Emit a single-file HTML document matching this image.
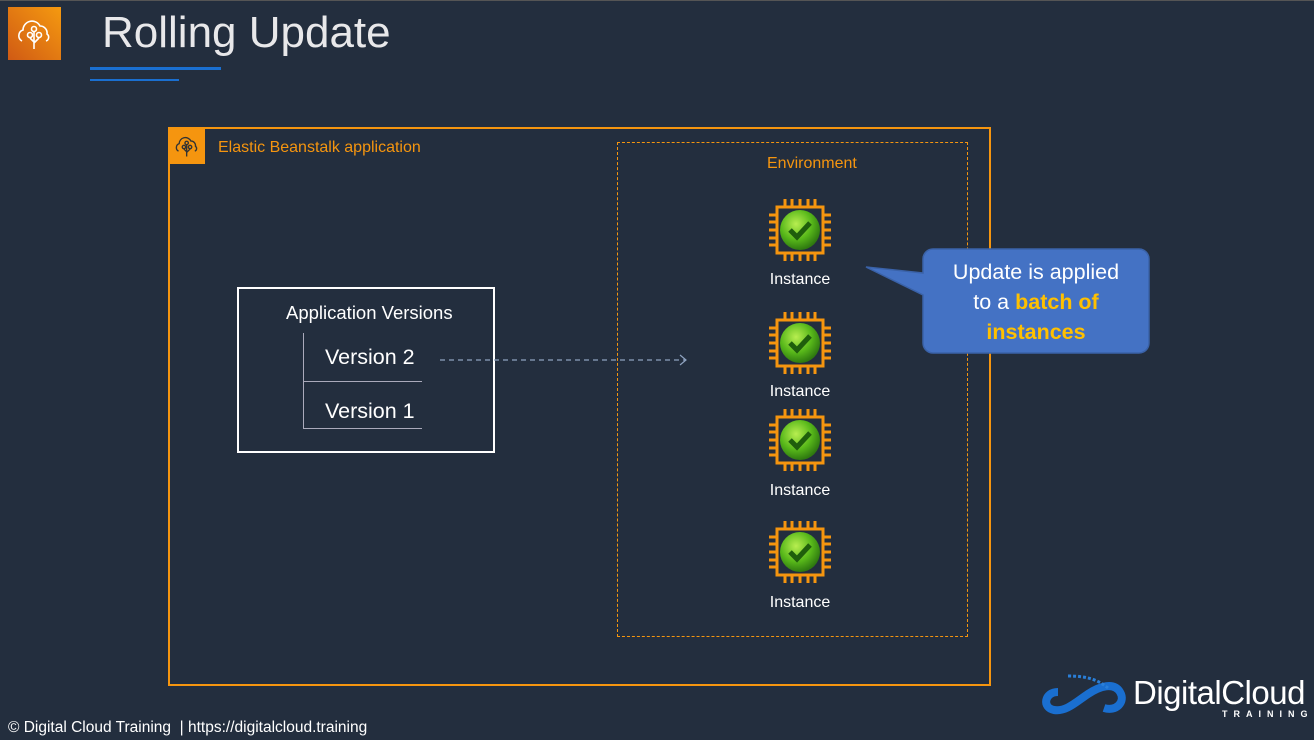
<!DOCTYPE html>
<html><head><style>
body{margin:0;width:1314px;height:740px;background:#232e3e;position:relative;overflow:hidden;font-family:"Liberation Sans",sans-serif;}
.a{position:absolute}
.inst{position:absolute;width:80px;text-align:center;color:#fff;font-size:16px}
</style></head><body>
<div class="a" style="left:0;top:0;width:1314px;height:1px;background:#555"></div>
<div class="a" style="left:8px;top:7px;width:53px;height:53px;background:linear-gradient(45deg,#d05a14,#f59a10)"></div>
<svg class="a" style="left:8px;top:7px" width="53" height="53" viewBox="0 0 53 53" fill="none" stroke="#fff" stroke-width="1.6"><path d="M14 34a6 6 0 0 1 1-11a9 9 0 0 1 17-4a7 7 0 0 1 7 8a4 4 0 0 1-1 7"/><circle cx="22" cy="28" r="2.5"/><circle cx="26" cy="22" r="2.5"/><circle cx="31" cy="28" r="2.5"/><path d="M26 25v17M22 31l4 4M31 31l-5 5"/></svg>
<div class="a" style="left:102px;top:8px;font-size:44px;color:#e8e8ea">Rolling Update</div>
<div class="a" style="left:90px;top:67px;width:131px;height:3px;background:#1a6fd0"></div>
<div class="a" style="left:90px;top:79px;width:89px;height:2px;background:#1a6fd0"></div>

<div class="a" style="left:168px;top:127px;width:819px;height:555px;border:2px solid #f5950f"></div>
<div class="a" style="left:169px;top:128px;width:36px;height:36px;background:#f5950f"></div>
<svg class="a" style="left:169px;top:128px" width="36" height="36" viewBox="0 0 53 53" fill="none" stroke="#333" stroke-width="2"><path d="M14 34a6 6 0 0 1 1-11a9 9 0 0 1 17-4a7 7 0 0 1 7 8a4 4 0 0 1-1 7"/><circle cx="22" cy="28" r="2.5"/><circle cx="26" cy="22" r="2.5"/><circle cx="31" cy="28" r="2.5"/><path d="M26 25v17M22 31l4 4M31 31l-5 5"/></svg>
<div class="a" style="left:218px;top:139px;font-size:16px;color:#f5950f">Elastic Beanstalk application</div>

<div class="a" style="left:617px;top:142px;width:349px;height:493px;border:1.5px dashed #f5950f"></div>
<div class="a" style="left:767px;top:155px;font-size:16px;color:#f5950f">Environment</div>

<div class="a" style="left:237px;top:287px;width:254px;height:162px;border:2px solid #fff"></div>
<div class="a" style="left:286px;top:302px;font-size:18.5px;color:#fff">Application Versions</div>
<div class="a" style="left:303px;top:333px;width:1px;height:96px;background:#aab"></div>
<div class="a" style="left:303px;top:381px;width:119px;height:1px;background:#aab"></div>
<div class="a" style="left:303px;top:428px;width:119px;height:1px;background:#aab"></div>
<div class="a" style="left:325px;top:345px;font-size:21.5px;color:#fff">Version 2</div>
<div class="a" style="left:325px;top:399px;font-size:21.5px;color:#fff">Version 1</div>
<svg class="a" style="left:438px;top:352px" width="255" height="16"><path d="M2 8H248" stroke="#8fa3c0" stroke-width="1.2" stroke-dasharray="5 4"/><path d="M242 3l6 5-6 5" stroke="#8fa3c0" fill="none" stroke-width="1.2"/></svg>

<svg width="0" height="0" style="position:absolute"><defs>
<radialGradient id="g" cx="40%" cy="35%" r="65%"><stop offset="0" stop-color="#b8ee50"/><stop offset="0.6" stop-color="#58b81a"/><stop offset="1" stop-color="#2f7a10"/></radialGradient>
<g id="chip"><rect x="8" y="8" width="46" height="46" fill="none" stroke="#f5950f" stroke-width="3"/>
<path d="M16 0v8M23 0v8M31 0v8M39 0v8M46 0v8M16 54v8M23 54v8M31 54v8M39 54v8M46 54v8M0 16h8M0 23h8M0 31h8M0 39h8M0 46h8M54 16h8M54 23h8M54 31h8M54 39h8M54 46h8" stroke="#f5950f" stroke-width="3"/>
<circle cx="31" cy="31" r="20" fill="url(#g)"/><path d="M21 31l7 7 13-14" stroke="#1f5e0c" stroke-width="5" fill="none"/></g></defs></svg>
<svg class="a" style="left:769px;top:199px" width="62" height="62"><use href="#chip"/></svg>
<svg class="a" style="left:769px;top:312px" width="62" height="62"><use href="#chip"/></svg>
<svg class="a" style="left:769px;top:409px" width="62" height="62"><use href="#chip"/></svg>
<svg class="a" style="left:769px;top:521px" width="62" height="62"><use href="#chip"/></svg>
<div class="inst" style="left:760px;top:271px">Instance</div>
<div class="inst" style="left:760px;top:383px">Instance</div>
<div class="inst" style="left:760px;top:482px">Instance</div>
<div class="inst" style="left:760px;top:594px">Instance</div>

<svg class="a" style="left:860px;top:245px" width="295" height="115"><path d="M73 4h206a10 10 0 0 1 10 10v84a10 10 0 0 1-10 10H73a10 10 0 0 1-10-10V50L6 22l57 6V14a10 10 0 0 1 10-10z" fill="#4472c4" stroke="#3a62a8" stroke-width="1.5"/></svg>
<div class="a" style="left:923px;top:257px;width:226px;text-align:center;font-size:21.5px;line-height:30px;color:#fff">Update is applied<br>to a <b style="color:#ffc000">batch of<br>instances</b></div>

<svg class="a" style="left:1038px;top:670px" width="95" height="50"><path d="M20 22c-14 0-16 16-4 18 12 2 22-8 34-16 12-8 26-12 32-2 6 10-4 20-16 16" stroke="#1a6fd0" stroke-width="8" fill="none"/><path d="M30 6c20 0 30 4 40 12" stroke="#2a7fd8" stroke-width="3" stroke-dasharray="3 2" fill="none"/></svg>
<div class="a" style="left:1133px;top:674px;font-size:33px;color:#fff;letter-spacing:-0.5px">DigitalCloud</div>
<div class="a" style="left:1222px;top:709px;font-size:9px;color:#fff;letter-spacing:6px;font-weight:bold">TRAINING</div>
<div class="a" style="left:8px;top:719px;font-size:15.5px;color:#fff">© Digital Cloud Training &nbsp;| https://digitalcloud.training</div>
</body></html>
